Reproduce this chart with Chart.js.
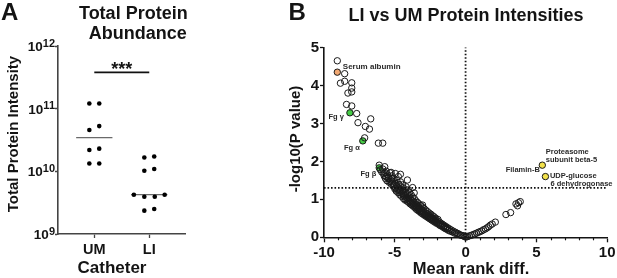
<!DOCTYPE html>
<html><head><meta charset="utf-8">
<script src="https://cdn.jsdelivr.net/npm/chart.js@4.4.1/dist/chart.umd.min.js"></script>
<style>
html,body{margin:0;padding:0;background:#fff;}
#wrap{position:relative;width:617px;height:278px;overflow:hidden;background:#fff;}
#ca{position:absolute;left:0;top:0;width:200px;height:278px;}
#cb{position:absolute;left:200px;top:0;width:417px;height:278px;}
</style></head><body>
<div id="wrap"><canvas id="ca" width="200" height="278"></canvas><canvas id="cb" width="417" height="278"></canvas></div>
<script>
// ---------- Panel A data ----------
const categories = ['UM', 'LI'];
const umIntensity = [1.21e11, 1.21e11, 4.56e10, 5.27e10, 2.19e10, 2.30e10, 1.33e10, 1.33e10];
const umColumnOffset = [-0.09, 0.09, -0.09, 0.09, -0.09, 0.09, -0.09, 0.09];
const liIntensity = [1.66e10, 1.72e10, 1.02e10, 1.09e10, 4.24e9, 3.94e9, 3.94e9, 4.24e9, 2.36e9, 2.51e9];
const liColumnOffset = [-0.09, 0.09, -0.09, 0.09, -0.28, -0.09, 0.10, 0.28, -0.09, 0.09];
const groupMedians = [3.44e10, 4.24e9];
const intensityTicks = [1e9, 1e10, 1e11, 1e12];
const tickExponents = ['9', '10', '11', '12'];
const significanceLevel = 3.8e11;
const significanceMark = '***';

// ---------- Panel B data ----------
const albuminDiff = [-9.06], albuminLogP = [4.35];
const fgNames = ['Fg \u03b3', 'Fg \u03b1', 'Fg \u03b2'];
const fgDiff = [-8.17, -7.26, -6.10], fgLogP = [3.28, 2.54, 1.83];
const upNames = ['Proteasome subunit beta-5', 'UDP-glucose 6 dehydrogonase'];
const upDiff = [5.42, 5.64], upLogP = [1.90, 1.60];
const pThreshold = 1.3;
const diffRange = [-10, 10];
const logPRange = [0, 5];
const otherProteins = [
 [-9.06,4.65],[-8.54,4.31],[-8.84,4.06],[-8.54,4.11],[-8.04,4.07],[-8.04,3.93],[-8.31,3.80],[-8.04,3.83],
 [-8.41,3.50],[-8.04,3.46],[-7.69,3.26],[-7.60,3.02],[-7.08,2.92],[-6.79,2.85],[-6.70,3.12],[-7.13,2.62],
 [-6.16,2.48],[-5.85,2.48],
 [-6.10,1.90],[-5.71,1.86],[-5.26,1.71],[-4.96,1.68],[-4.60,1.66],[-4.11,1.51],[-3.63,1.17],[-3.04,0.85],[-3.74,1.31],
 [-6.02,1.78],[-5.92,1.72],[-5.80,1.68],[-5.75,1.62],[-5.66,1.55],[-5.60,1.74],[-5.55,1.49],[-5.50,1.64],
 [-5.44,1.58],[-5.40,1.45],[-5.35,1.70],[-5.30,1.52],[-5.25,1.40],[-5.20,1.62],[-5.16,1.48],[-5.10,1.35],
 [-5.06,1.55],[-5.00,1.28],[-4.93,1.42],[-4.90,1.22],[-4.86,1.50],[-4.82,1.32],[-4.78,1.18],[-4.75,1.60],
 [-4.71,1.40],[-4.68,1.26],[-4.64,1.12],[-4.60,1.46],[-4.56,1.33],[-4.52,1.08],[-4.48,1.22],[-4.45,1.38],
 [-4.41,1.15],[-4.38,1.02],[-4.34,1.28],[-4.30,1.10],[-4.27,0.98],[-4.23,1.20],[-4.20,1.33],[-4.16,1.05],
 [-4.12,0.95],[-4.09,1.15],[-4.05,1.25],[-4.02,0.92],[-3.98,1.05],[-3.95,1.18],[-3.91,0.88],[-3.88,1.00],
 [-3.84,1.12],[-3.80,0.85],[-3.77,0.96],[-3.73,1.06],[-3.70,0.82],[-3.66,0.92],[-3.62,1.02],[-3.58,0.78],
 [-3.55,0.88],[-3.51,0.96],[-3.48,0.74],[-3.44,0.84],[-3.40,0.92],[-3.37,0.71],[-3.33,0.80],[-3.29,0.88],
 [-3.26,0.68],[-3.22,0.76],[-3.18,0.84],[-3.14,0.64],[-3.10,0.72],[-3.06,0.80],[-3.02,0.61],[-2.98,0.69],
 [-2.94,0.76],[-2.90,0.58],[-2.86,0.65],[-2.82,0.72],[-2.78,0.55],[-2.74,0.62],[-2.70,0.68],[-2.66,0.52],
 [-2.62,0.59],[-2.58,0.64],[-2.54,0.49],[-2.50,0.56],[-2.46,0.61],[-2.42,0.46],[-2.38,0.52],[-2.34,0.57],
 [-2.30,0.43],[-2.26,0.49],[-2.22,0.54],[-2.18,0.40],[-2.14,0.46],[-2.10,0.50],[-2.05,0.37],[-2.00,0.43],
 [-1.95,0.47],[-1.90,0.34],[-1.85,0.40],[-1.80,0.31],[-1.74,0.37],[-1.68,0.29],[-1.62,0.34],[-1.56,0.26],
 [-1.50,0.31],[-1.44,0.23],[-1.38,0.28],[-1.32,0.21],[-1.26,0.25],[-1.20,0.18],[-1.13,0.22],[-1.06,0.16],
 [-1.00,0.19],[-0.93,0.14],[-0.86,0.16],[-0.78,0.11],[-0.70,0.13],[-0.62,0.09],[-0.54,0.10],[-0.45,0.07],
 [-0.36,0.06],[-0.27,0.05],[-0.18,0.04],[-0.10,0.03],[-0.03,0.01],
 [-5.85,1.80],[-5.70,1.70],[-5.62,1.60],[-5.48,1.55],[-5.33,1.47],[-5.22,1.55],[-5.13,1.42],[-5.03,1.38],
 [-4.95,1.30],[-4.88,1.36],[-4.80,1.25],[-4.73,1.30],[-4.66,1.18],[-4.58,1.22],[-4.50,1.15],[-4.43,1.25],
 [-4.36,1.08],[-4.28,1.18],[-4.21,1.00],[-4.14,1.12],[-4.07,1.02],[-4.00,0.98],[-3.93,0.95],[-3.86,0.92],
 [-3.79,0.90],[-3.71,0.88],[-3.64,0.84],[-3.56,0.82],[-3.49,0.80],[-3.42,0.78],[-3.35,0.75],[-3.27,0.73],
 [-3.20,0.70],[-3.12,0.68],[-3.04,0.66],[-2.96,0.63],[-2.88,0.60],[-2.80,0.59],[-2.72,0.57],[-2.64,0.55],
 [-2.56,0.53],[-2.48,0.51],[-2.40,0.49],[-2.32,0.47],[-2.24,0.45],[-2.16,0.43],[-2.08,0.41],[-1.98,0.38],
 [-1.88,0.36],[-1.78,0.34],[-1.65,0.31],[-1.52,0.28],[-1.40,0.25],[-1.28,0.23],
 [0.05,0.01],[0.15,0.02],[0.28,0.04],[0.40,0.05],[0.52,0.07],[0.65,0.09],[0.78,0.11],[0.90,0.13],
 [1.02,0.15],[1.15,0.17],[1.27,0.20],[1.40,0.22],[1.52,0.25],[1.63,0.28],[1.75,0.32],[1.88,0.35],
 [2.10,0.40],[2.85,0.60],[3.18,0.65],[3.56,0.88],[3.67,0.83],[3.86,0.94],[3.74,0.91]
];

// ---------- common styling ----------
const FONT = "'Liberation Sans', Arial, Helvetica, sans-serif";
const INK = '#141414';
Chart.defaults.font.family = FONT;
Chart.defaults.color = INK;

// ---------- Panel A ----------
const umPoints = umIntensity.map((v, i) => ({x: 1 + umColumnOffset[i], y: v}));
const liPoints = liIntensity.map((v, i) => ({x: 2 + liColumnOffset[i], y: v}));
const medianSegs = groupMedians.map((m, i) => [{x: i + 1 - 0.33, y: m}, {x: i + 1 + 0.33, y: m}]);

const panelAText = {
  id: 'panelAText',
  afterDraw(chart) {
    const {ctx, scales: {x, y}} = chart;
    ctx.save();
    ctx.fillStyle = INK;
    ctx.textBaseline = 'alphabetic';
    ctx.textAlign = 'left';
    ctx.font = `bold 24px ${FONT}`;
    ctx.fillText('A', 1, 20);
    ctx.textAlign = 'center';
    ctx.font = `bold 18px ${FONT}`;
    ctx.fillText('Total Protein', 133.3, 18.5);
    ctx.fillText('Abundance', 137.8, 38.5);
    intensityTicks.forEach((v, i) => {
      const py = y.getPixelForValue(v);
      const right = y.right - 3;
      ctx.textAlign = 'right';
      ctx.font = `bold 11px ${FONT}`;
      const supW = ctx.measureText(tickExponents[i]).width;
      ctx.fillText(tickExponents[i], right, py + 0.5);
      ctx.font = `bold 13.5px ${FONT}`;
      ctx.fillText('10', right - supW, py + 5);
    });
    ctx.font = `bold 15px ${FONT}`;
    ctx.save();
    ctx.translate(13.5, 134);
    ctx.rotate(-Math.PI / 2);
    ctx.textAlign = 'center';
    ctx.textBaseline = 'middle';
    ctx.fillText('Total Protein Intensity', 0, 0);
    ctx.restore();
    ctx.textAlign = 'center';
    ctx.font = `bold 17px ${FONT}`;
    ctx.fillText('Catheter', 112, 273);
    ctx.font = `bold 18px ${FONT}`;
    const sx = (x.getPixelForValue(1) + x.getPixelForValue(2)) / 2;
    ctx.fillText(significanceMark, sx, y.getPixelForValue(significanceLevel) + 2.5);
    ctx.restore();
  }
};

new Chart(document.getElementById('ca'), {
  type: 'scatter',
  data: {
    datasets: [
      {data: umPoints, pointRadius: 2.3, pointBackgroundColor: '#000', pointBorderWidth: 0, clip: false},
      {data: liPoints, pointRadius: 2.3, pointBackgroundColor: '#000', pointBorderWidth: 0, clip: false},
      ...medianSegs.map(seg => ({data: seg, showLine: true, borderColor: '#6a6a6a', borderWidth: 1.2, pointRadius: 0})),
      {data: [{x: 1, y: significanceLevel}, {x: 2, y: significanceLevel}], showLine: true, borderColor: '#111', borderWidth: 1.6, pointRadius: 0}
    ]
  },
  options: {
    responsive: false, animation: false, events: [],
    layout: {padding: {left: 0, top: 46, right: 15, bottom: 0}},
    plugins: {legend: {display: false}, tooltip: {enabled: false}},
    scales: {
      x: {
        type: 'linear', min: 0.34, max: 2.65,
        afterBuildTicks: s => { s.ticks = categories.map((c, i) => ({value: i + 1})); },
        afterFit: s => { s.height = 44; },
        ticks: {callback: (v, i) => categories[i], font: {size: 14.5, weight: 'bold'}, color: INK, padding: 3, autoSkip: false, maxRotation: 0},
        grid: {drawOnChartArea: false, tickLength: 4, tickColor: '#444', tickWidth: 1.3},
        border: {color: '#444', width: 1.6}
      },
      y: {
        type: 'logarithmic', min: 1e9, max: 1e12,
        afterBuildTicks: s => { s.ticks = intensityTicks.map(v => ({value: v})); },
        afterFit: s => { s.width = 58; },
        ticks: {callback: () => '', padding: 0},
        grid: {drawOnChartArea: false, tickLength: 3, tickColor: '#444', tickWidth: 1.3},
        border: {color: '#444', width: 1.6}
      }
    }
  },
  plugins: [panelAText]
});

// ---------- Panel B ----------
const xy = (xs, ys) => xs.map((v, i) => ({x: v, y: ys[i]}));

const panelBText = {
  id: 'panelBText',
  afterDraw(chart) {
    const {ctx, scales: {x, y}} = chart;
    ctx.save();
    ctx.strokeStyle = INK; ctx.lineWidth = 1.2;
    for (let v = diffRange[0]; v <= diffRange[1]; v++) {
      if (v % 5 === 0) continue;
      const px = Math.round(x.getPixelForValue(v)) + 0.5;
      ctx.beginPath(); ctx.moveTo(px, y.bottom); ctx.lineTo(px, y.bottom + 3); ctx.stroke();
    }
    ctx.fillStyle = INK;
    ctx.textBaseline = 'alphabetic';
    ctx.textAlign = 'left';
    ctx.font = `bold 24px ${FONT}`;
    ctx.fillText('B', 88.5, 20);
    ctx.textAlign = 'center';
    ctx.font = `bold 18px ${FONT}`;
    ctx.fillText('LI vs UM Protein Intensities', 266, 21);
    ctx.font = `bold 15px ${FONT}`;
    ctx.save();
    ctx.translate(95.5, 139);
    ctx.rotate(-Math.PI / 2);
    ctx.textBaseline = 'middle';
    ctx.fillText('-log10(P value)', 0, 0);
    ctx.restore();
    ctx.font = `bold 16.5px ${FONT}`;
    ctx.fillText('Mean rank diff.', 271, 273.5);
    const P = (dx, dy) => [x.getPixelForValue(dx), y.getPixelForValue(dy)];
    ctx.fillStyle = '#2a2a2a';
    ctx.textBaseline = 'middle';
    ctx.font = `bold 8px ${FONT}`;
    let [px, py] = P(albuminDiff[0], albuminLogP[0]);
    ctx.textAlign = 'left'; ctx.fillText('Serum albumin', px + 5.5, py - 5.5);
    ctx.font = `bold 7.5px ${FONT}`;
    ctx.textAlign = 'right';
    [px, py] = P(fgDiff[0], fgLogP[0]); ctx.fillText(fgNames[0], px - 6, py + 4);
    [px, py] = P(fgDiff[1], fgLogP[1]); ctx.fillText(fgNames[1], px - 3, py + 7);
    [px, py] = P(fgDiff[2], fgLogP[2]); ctx.fillText(fgNames[2], px - 3, py + 6);
    [px, py] = P(upDiff[0], upLogP[0]);
    ctx.fillText('Filamin-B', px - 2.5, py + 5);
    ctx.textAlign = 'left';
    ctx.fillText(upNames[0].slice(0, 10), px + 3.5, py - 13.3);
    ctx.fillText(upNames[0].slice(11), px + 3.5, py - 5);
    [px, py] = P(upDiff[1], upLogP[1]);
    ctx.fillText(upNames[1].slice(0, 11), px + 4.5, py - 0.7);
    ctx.fillText(upNames[1].slice(12), px + 5, py + 7.3);
    ctx.restore();
  }
};

const dotted = {showLine: true, borderColor: '#111', borderWidth: 1.8, borderDash: [1.6, 1.9], pointRadius: 0, clip: false};
const markerBase = {pointRadius: 3.2, pointBorderWidth: 1, pointBorderColor: '#1a1a1a', clip: false};

new Chart(document.getElementById('cb'), {
  type: 'scatter',
  data: {
    datasets: [
      {...dotted, data: [{x: diffRange[0], y: pThreshold}, {x: diffRange[1], y: pThreshold}]},
      {...dotted, data: [{x: 0, y: logPRange[0]}, {x: 0, y: logPRange[1]}]},
      {...markerBase, data: otherProteins.map(p => ({x: p[0], y: p[1]})), pointBackgroundColor: 'rgba(255,255,255,0)'},
      {...markerBase, data: xy(albuminDiff, albuminLogP), pointBackgroundColor: '#f2a872'},
      {...markerBase, data: xy(fgDiff, fgLogP), pointBackgroundColor: '#45cc45'},
      {...markerBase, data: xy(upDiff, upLogP), pointBackgroundColor: '#f2e14a'}
    ]
  },
  options: {
    responsive: false, animation: false, events: [],
    layout: {padding: {left: 0, top: 47.5, right: 7.7, bottom: 0}},
    plugins: {legend: {display: false}, tooltip: {enabled: false}},
    scales: {
      x: {
        type: 'linear', min: diffRange[0], max: diffRange[1],
        afterFit: s => { s.height = 40.7; },
        ticks: {stepSize: 1, autoSkip: false, maxRotation: 0, callback: v => (v % 5 === 0 ? String(v) : ''), font: {size: 15, weight: 'bold'}, color: INK, padding: 1.5},
        grid: {drawOnChartArea: false, tickLength: 5, tickWidth: 1.3, tickColor: c => (c.tick && c.tick.value % 5 === 0 ? INK : 'rgba(0,0,0,0)')},
        border: {color: INK, width: 1.6}
      },
      y: {
        type: 'linear', min: logPRange[0], max: logPRange[1],
        afterFit: s => { s.width = 124; },
        ticks: {stepSize: 1, font: {size: 15, weight: 'bold'}, color: INK, padding: 1},
        grid: {drawOnChartArea: false, tickLength: 4, tickWidth: 1.3, tickColor: INK},
        border: {color: INK, width: 1.6}
      }
    }
  },
  plugins: [panelBText]
});
</script>
</body></html>
